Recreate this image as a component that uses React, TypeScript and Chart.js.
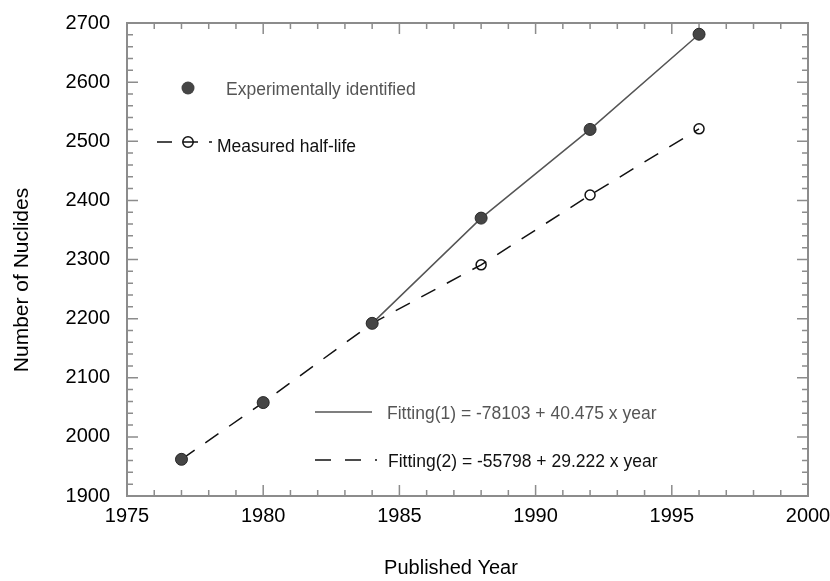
import React, { useEffect, useRef } from 'react';
import { Chart, registerables } from 'chart.js';

Chart.register(...registerables);

// ---- data ----
const YEARS = [1977, 1980, 1984, 1988, 1992, 1996];
const IDENTIFIED = [1962, 2058, 2192, 2370, 2520, 2681];
const HALF_LIFE = [1962, 2058, 2192, 2291, 2409, 2521];
const FIT1_YEARS = [1984, 1988, 1992, 1996];
const FIT1_VALUES = [2192, 2370, 2520, 2681];
const FIT2_YEARS = [1977, 1980, 1984, 1988, 1992, 1996];
const FIT2_VALUES = [1962, 2058, 2192, 2291, 2409, 2521];

const X_TICKS = [1975, 1980, 1985, 1990, 1995, 2000];
const Y_TICKS = [1900, 2000, 2100, 2200, 2300, 2400, 2500, 2600, 2700];
const X_MINOR_STEP = 1;
const Y_MINOR_STEP = 20;

const X_TITLE = 'Published Year';
const Y_TITLE = 'Number of Nuclides';
const LABEL_IDENTIFIED = 'Experimentally identified';
const LABEL_HALF_LIFE = 'Measured half-life';
const LABEL_FIT1 = 'Fitting(1) = -78103 + 40.475 x year';
const LABEL_FIT2 = 'Fitting(2) = -55798 + 29.222 x year';

const FONT = '"Liberation Sans", Arial, Helvetica, sans-serif';
const FRAME = '#8c8c8c';
const DARK_FILL = '#454545';
const GRAY_TEXT = '#555555';

const pts = (xs: number[], ys: number[]) => xs.map((x, i) => ({ x, y: ys[i] }));

const decorPlugin = {
  id: 'decor',
  beforeDatasetsDraw(chart: any) {
    const { ctx, chartArea: a, scales } = chart;
    const xs = scales.x;
    const ys = scales.y;
    ctx.save();
    ctx.strokeStyle = FRAME;
    ctx.lineWidth = 1.5;
    const xMin = X_TICKS[0];
    const xMax = X_TICKS[X_TICKS.length - 1];
    for (let v = xMin; v <= xMax; v += X_MINOR_STEP) {
      const px = xs.getPixelForValue(v);
      const len = (v - xMin) % 5 === 0 ? 11 : 6;
      ctx.beginPath();
      ctx.moveTo(px, a.bottom);
      ctx.lineTo(px, a.bottom - len);
      ctx.moveTo(px, a.top);
      ctx.lineTo(px, a.top + len);
      ctx.stroke();
    }
    const yMin = Y_TICKS[0];
    const yMax = Y_TICKS[Y_TICKS.length - 1];
    for (let v = yMin; v <= yMax; v += Y_MINOR_STEP) {
      const py = ys.getPixelForValue(v);
      const len = (v - yMin) % 100 === 0 ? 11 : 6;
      ctx.beginPath();
      ctx.moveTo(a.left, py);
      ctx.lineTo(a.left + len, py);
      ctx.moveTo(a.right, py);
      ctx.lineTo(a.right - len, py);
      ctx.stroke();
    }
    ctx.lineWidth = 2;
    ctx.strokeRect(a.left, a.top, a.right - a.left, a.bottom - a.top);
    ctx.restore();
  },
  afterDraw(chart: any) {
    const { ctx, chartArea: a } = chart;
    const L = a.left;
    const T = a.top;
    ctx.save();
    // axis titles
    ctx.fillStyle = '#000';
    ctx.font = `20px ${FONT}`;
    ctx.textAlign = 'center';
    ctx.textBaseline = 'middle';
    ctx.fillText(X_TITLE, 451, 568);
    ctx.save();
    ctx.translate(22, 280);
    ctx.rotate(-Math.PI / 2);
    ctx.font = `21px ${FONT}`;
    ctx.fillText(Y_TITLE, 0, 0);
    ctx.restore();

    // legend (top-left)
    ctx.font = `17.5px ${FONT}`;
    ctx.textAlign = 'left';
    ctx.textBaseline = 'alphabetic';
    // identified
    ctx.fillStyle = DARK_FILL;
    ctx.beginPath();
    ctx.arc(L + 61, T + 65, 6.5, 0, Math.PI * 2);
    ctx.fill();
    ctx.fillStyle = GRAY_TEXT;
    ctx.fillText(LABEL_IDENTIFIED, L + 99, T + 72);
    // half-life
    ctx.strokeStyle = '#111';
    ctx.lineWidth = 1.5;
    ctx.setLineDash([15, 11]);
    ctx.beginPath();
    ctx.moveTo(L + 30, T + 119);
    ctx.lineTo(L + 85, T + 119);
    ctx.stroke();
    ctx.setLineDash([]);
    ctx.beginPath();
    ctx.arc(L + 61, T + 119, 5.2, 0, Math.PI * 2);
    ctx.stroke();
    ctx.fillStyle = '#111';
    ctx.fillText(LABEL_HALF_LIFE, L + 90, T + 129);

    // legend (bottom)
    ctx.strokeStyle = '#555';
    ctx.lineWidth = 1.5;
    ctx.beginPath();
    ctx.moveTo(L + 188, T + 389);
    ctx.lineTo(L + 245, T + 389);
    ctx.stroke();
    ctx.fillStyle = GRAY_TEXT;
    ctx.fillText(LABEL_FIT1, L + 260, T + 396);

    ctx.strokeStyle = '#111';
    ctx.setLineDash([16, 14]);
    ctx.beginPath();
    ctx.moveTo(L + 188, T + 437);
    ctx.lineTo(L + 250, T + 437);
    ctx.stroke();
    ctx.setLineDash([]);
    ctx.fillStyle = '#111';
    ctx.fillText(LABEL_FIT2, L + 261, T + 443.5);
    ctx.restore();
  },
};

export default function App() {
  const ref = useRef<HTMLCanvasElement | null>(null);

  useEffect(() => {
    document.body.style.margin = '0';
    document.body.style.overflow = 'hidden';
    const canvas = ref.current;
    if (!canvas) return;
    const tickFont = { family: FONT, size: 20 };
    const chart = new Chart(canvas, {
      type: 'scatter',
      data: {
        datasets: [
          {
            label: LABEL_IDENTIFIED,
            data: pts(YEARS, IDENTIFIED),
            showLine: false,
            pointRadius: 6,
            pointBackgroundColor: DARK_FILL,
            pointBorderColor: '#2a2a2a',
            pointBorderWidth: 1,
            order: 0,
          },
          {
            label: LABEL_HALF_LIFE,
            data: pts(YEARS, HALF_LIFE),
            showLine: false,
            pointRadius: 5,
            pointBackgroundColor: 'rgba(0,0,0,0)',
            pointBorderColor: '#111',
            pointBorderWidth: 1.5,
            order: 1,
          },
          {
            label: 'Fitting(2)',
            data: pts(FIT2_YEARS, FIT2_VALUES),
            showLine: true,
            pointRadius: 0,
            borderColor: '#111',
            borderWidth: 1.5,
            borderDash: [16, 13],
            tension: 0,
            order: 2,
          },
          {
            label: 'Fitting(1)',
            data: pts(FIT1_YEARS, FIT1_VALUES),
            showLine: true,
            pointRadius: 0,
            borderColor: '#555',
            borderWidth: 1.5,
            tension: 0,
            order: 3,
          },
        ],
      },
      options: {
        responsive: false,
        animation: false,
        layout: { padding: { top: 23, right: 22, left: 0, bottom: 0 } },
        plugins: {
          legend: { display: false },
          tooltip: { enabled: false },
        },
        scales: {
          x: {
            type: 'linear',
            min: X_TICKS[0],
            max: X_TICKS[X_TICKS.length - 1],
            afterBuildTicks: (s: any) => {
              s.ticks = X_TICKS.map((v) => ({ value: v }));
            },
            afterFit: (s: any) => {
              s.height = 85;
              s.paddingLeft = 0;
              s.paddingRight = 0;
            },
            ticks: {
              callback: (v: any) => String(v),
              font: tickFont,
              color: '#000',
              padding: 8,
              maxRotation: 0,
              autoSkip: false,
            },
            grid: { display: false, drawTicks: false },
            border: { display: false },
          },
          y: {
            type: 'linear',
            min: Y_TICKS[0],
            max: Y_TICKS[Y_TICKS.length - 1],
            afterBuildTicks: (s: any) => {
              s.ticks = Y_TICKS.map((v) => ({ value: v }));
            },
            afterFit: (s: any) => {
              s.width = 127;
              s.paddingTop = 0;
              s.paddingBottom = 0;
            },
            ticks: {
              callback: (v: any) => String(v),
              font: tickFont,
              color: '#000',
              padding: 17,
              autoSkip: false,
            },
            grid: { display: false, drawTicks: false },
            border: { display: false },
          },
        },
      },
      plugins: [decorPlugin],
    } as any);
    return () => chart.destroy();
  }, []);

  return (
    <div style={{ width: 830, height: 581, position: 'relative', background: '#fff' }}>
      <canvas ref={ref} width={830} height={581} style={{ display: 'block' }} />
    </div>
  );
}
